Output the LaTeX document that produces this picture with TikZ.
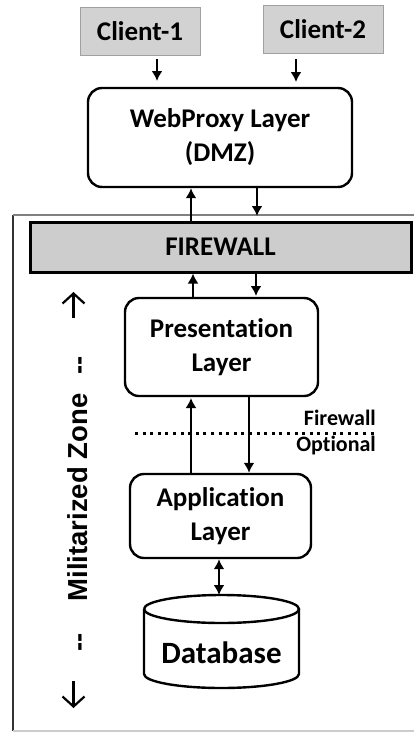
\documentclass[tikz,border=0pt]{standalone}
\usepackage{fontspec}
\setmainfont{Carlito}[Ligatures=NoCommon]
\newfontfamily\arialf{Liberation Sans}
\usetikzlibrary{arrows.meta}
\definecolor{clientfill}{RGB}{210,210,210}
\definecolor{clientdraw}{RGB}{160,160,160}
\definecolor{fwfill}{RGB}{205,205,205}
\begin{document}
\begin{tikzpicture}[x=1pt,y=-1pt,
  txt/.style={font=\fontsize{27}{34}\selectfont\bfseries, align=center},
  layerbox/.style={txt, draw, line width=2.4pt, rounded corners=14pt, inner sep=0pt},
  client/.style={txt, draw=clientdraw, fill=clientfill, line width=1pt, minimum width=120pt, minimum height=48pt, inner sep=0pt},
  arr/.style={line width=2.2pt, -{Latex[length=10pt,width=11pt]}},
  darr/.style={line width=2.2pt, {Latex[length=10pt,width=11pt]}-{Latex[length=10pt,width=11pt]}},
  side/.style={font=\fontsize{27.5}{30}\selectfont\arialf\bfseries, rotate=90, anchor=base, inner sep=0pt},
  sidearr/.style={line width=2.2pt, -{Straight Barb[length=10pt,width=22pt]}},
  small/.style={font=\fontsize{22}{26}\selectfont\bfseries, anchor=east, inner sep=0pt}
]
\useasboundingbox (0,0) rectangle (414,732);

% outer zone
\draw[line width=2pt, black!80] (13,731) -- (13,215);
\draw[line width=2pt, gray] (13,215) -- (414,215);
\draw[line width=1.2pt, gray!40] (13,731) -- (414,731);

% clients
\node[client] (c1) at (140,31) {Client-1};
\node[client] (c2) at (323,29) {Client-2};

% webproxy
\node[layerbox, minimum width=264pt, minimum height=99pt] (wp) at (220,137.5) {WebProxy Layer\\(DMZ)};

% firewall
\node[txt, draw, line width=3pt, fill=fwfill, minimum width=381pt, minimum height=50pt, inner sep=0pt] (fw) at (220.5,247) {FIREWALL};

% presentation
\node[layerbox, minimum width=193pt, minimum height=98pt] (pl) at (221.5,347) {Presentation\\Layer};

% application
\node[layerbox, minimum width=181pt, minimum height=84pt] (al) at (220.5,516) {Application\\Layer};

% database cylinder
\draw[line width=2.4pt] (144,609) arc[start angle=180, end angle=360, x radius=77.5, y radius=14]
   arc[start angle=0, end angle=180, x radius=77.5, y radius=14];
\draw[line width=2.4pt] (144,609) -- (144,674) arc[start angle=180, end angle=0, x radius=77.5, y radius=14] -- (299,609);
\coordinate (dbtop) at (219,595);
\node[txt, font=\fontsize{31}{36}\selectfont\bfseries] (db) at (221.5,653) {Database};

% arrow columns
\coordinate (k191) at (191,0);
\coordinate (k193) at (193,0);
\coordinate (k249) at (249,0);
\coordinate (k256) at (256,0);
\coordinate (k257) at (257,0);
\coordinate (k219) at (219,0);

% client arrows
\coordinate (a1) at (157,59);
\coordinate (a1e) at (157,81);
\coordinate (a2) at (296,59);
\coordinate (a2e) at (296,82);
\draw[arr] (a1) -- (a1e);
\draw[arr] (a2) -- (a2e);

% webproxy <-> firewall
\coordinate (f1) at (191,222);
\coordinate (f2) at (257,216);
\draw[arr] (f1) -- (k191 |- wp.south);
\draw[arr] (k257 |- wp.south) -- (f2);

% firewall <-> presentation
\coordinate (p2) at (256,296);
\draw[arr] (k193 |- pl.north) -- (k193 |- fw.south);
\draw[arr] (k256 |- fw.south) -- (p2);

% presentation <-> application
\coordinate (q1) at (191,398);
\draw[arr] (k191 |- al.north) -- (q1);
\draw[arr] (k249 |- pl.south) -- (k249 |- al.north);

% app <-> db
\draw[darr] (k219 |- al.south) -- (dbtop);

% optional firewall
\coordinate (o1) at (135,433);
\coordinate (o2) at (377,433);
\draw[line width=3pt, dash pattern=on 3pt off 4.6pt] (o1) -- (o2);
\node[small] (fwl) at (376,418) {Firewall};
\node[small] (opt) at (376,446) {Optional};

% side label
\node[side] (mz) at (87,497.5) {Militarized Zone};
\node[side] (d1) at (87,365) {-{}-};
\node[side] (d2) at (87,642.5) {-{}-};
\coordinate (upb) at (73.5,318);
\coordinate (upt) at (73.5,292);
\coordinate (dnt) at (73.5,681);
\coordinate (dnb) at (73.5,708);
\draw[sidearr] (upb) -- (upt);
\draw[sidearr] (dnt) -- (dnb);
\end{tikzpicture}
\end{document}
